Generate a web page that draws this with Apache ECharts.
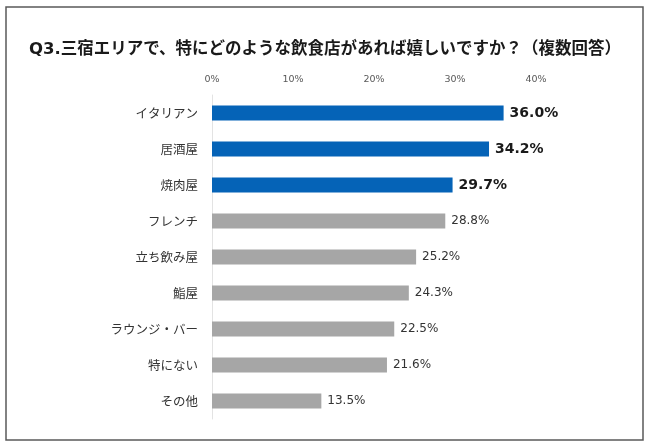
<!DOCTYPE html>
<html><head><meta charset="utf-8">
<script src="https://cdn.jsdelivr.net/npm/echarts@6/dist/echarts.min.js"></script>
<style>html,body{margin:0;padding:0;background:#fff}#c{width:650px;height:448px}</style>
</head><body><div id="c"></div>
<script>
const categories = ['イタリアン','居酒屋','焼肉屋','フレンチ','立ち飲み屋','鮨屋','ラウンジ・バー','特にない','その他'];
const values = [36.0, 34.2, 29.7, 28.8, 25.2, 24.3, 22.5, 21.6, 13.5];
const highlightCount = 3;
const tickValues = [0, 10, 20, 30, 40];
const titleText = 'Q3.三宿エリアで、特にどのような飲食店があれば嬉しいですか？（複数回答）';

const chart = echarts.init(document.getElementById('c'), null, {renderer:'canvas'});
const jp = '"DejaVu Sans", "Noto Sans CJK JP", sans-serif';
chart.setOption({
  backgroundColor: '#fff',
  animation: false,
  title: {
    text: titleText, left: 'center', top: 36,
    textStyle: {fontFamily: '"DejaVu Sans", "Noto Sans CJK JP", sans-serif', fontSize: 16.5, fontWeight: 'bold', color: '#1a1a1a'}
  },
  graphic: [{type:'rect', shape:{x:6, y:7, width:637, height:433}, style:{fill:'none', stroke:'#595959', lineWidth:1.5}, silent:true}],
  grid: {left: 212, right: 114, top: 95, bottom: 29, containLabel: false},
  xAxis: {
    type: 'value', position: 'top', min: 0, max: 40, interval: 10,
    axisLine: {show:false}, axisTick: {show:false}, splitLine: {show:false},
    axisLabel: {formatter: v => tickValues.includes(v) ? v + '%' : '', fontSize: 9.5, color: '#595959', margin: 11, fontFamily: jp}
  },
  yAxis: {
    type: 'category', data: categories, inverse: true,
    axisLine: {show:true, lineStyle:{color:'#e3e3e3', width:1}}, axisTick: {show:false},
    axisLabel: {fontSize: 12.5, color: '#333', margin: 14, fontFamily: '"Noto Sans CJK JP", sans-serif'}
  },
  series: [{
    type: 'bar', barWidth: 15,
    data: values.map((v, i) => ({
      value: v,
      itemStyle: {color: i < highlightCount ? '#0563b7' : '#a6a6a6'},
      label: i < highlightCount ? {fontSize: 14, fontWeight: 'bold', color: '#1a1a1a'} : {fontSize: 12, fontWeight: 'normal', color: '#333'}
    })),
    label: {show: true, position: 'right', distance: 6, fontFamily: jp, formatter: p => p.value.toFixed(1) + '%'}
  }]
});
</script></body></html>
